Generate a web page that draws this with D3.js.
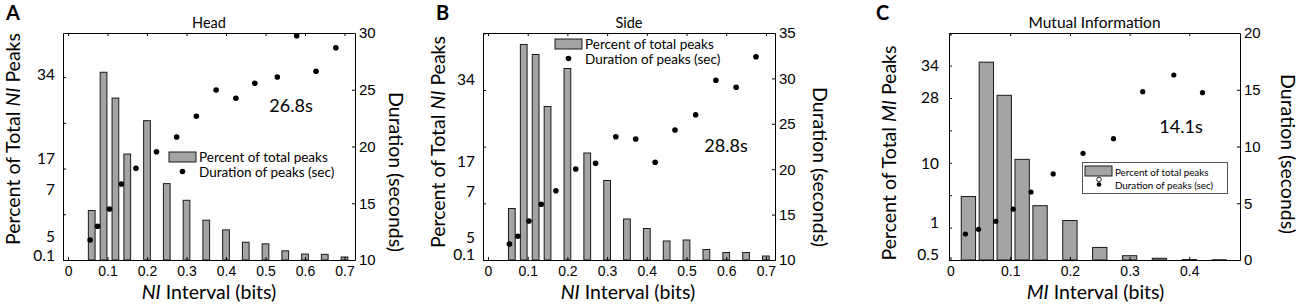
<!DOCTYPE html>
<html>
<head>
<meta charset="utf-8">
<script src="https://cdn.jsdelivr.net/npm/d3@7"></script>
<style>
  body { margin: 0; background: #fff; }
  svg { font-family: Lato, "Open Sans", sans-serif; }
</style>
</head>
<body>
<svg id="chart" width="1300" height="305"></svg>
<script>
// ---- data ----

// bins of the histograms (bits)
const niBins = [0.06, 0.09, 0.12, 0.15, 0.2, 0.25, 0.3, 0.35, 0.4, 0.45, 0.5, 0.55, 0.6, 0.65, 0.7];
const miBins = [0.03, 0.06, 0.09, 0.12, 0.15, 0.2, 0.25, 0.3, 0.35, 0.4, 0.45];

// percent of total peaks
const headPct = [9.2, 34.9, 30.1, 19.7, 25.9, 14.2, 11.1, 7.4, 5.6, 3.3, 3.0, 1.7, 1.1, 1.05, 0.56];
const sidePct = [10.3, 43.1, 41.1, 30.7, 38.3, 21.4, 15.9, 8.2, 6.3, 3.8, 4.0, 2.1, 1.5, 1.5, 0.8];
const miPct   = [11.1, 34.6, 28.8, 17.6, 9.5, 6.9, 2.2, 0.75, 0.3, 0.08, 0.04];

// duration of peaks (sec), plotted at their own interval positions
const headDurAt = [0.056, 0.075, 0.105, 0.135, 0.172, 0.224, 0.275, 0.325, 0.375, 0.425, 0.473, 0.53, 0.579, 0.628, 0.678];
const headDur   = [11.76, 12.97, 14.49, 16.7, 18.08, 19.54, 20.84, 22.66, 24.98, 24.25, 25.57, 26.12, 29.76, 26.63, 28.7];
const sideDurAt = [0.054, 0.075, 0.103, 0.134, 0.171, 0.221, 0.271, 0.322, 0.372, 0.421, 0.471, 0.523, 0.574, 0.625, 0.675];
const sideDur   = [11.76, 12.61, 14.3, 16.14, 17.63, 20.02, 20.65, 23.58, 23.33, 20.76, 24.32, 26.0, 29.79, 29.02, 32.39];
const miDurAt   = [0.025, 0.047, 0.076, 0.105, 0.135, 0.172, 0.222, 0.273, 0.322, 0.374, 0.422];
const miDur     = [2.29, 2.7, 3.41, 4.49, 5.99, 7.58, 9.4, 10.69, 14.83, 16.3, 14.74];

// tick labels
const niXTicks = [0, 0.1, 0.2, 0.3, 0.4, 0.5, 0.6, 0.7];
const miXTicks = [0, 0.1, 0.2, 0.3, 0.4];
const niYLabels = ["0.1", "5", "7", "17", "34"];
const miYLabels = ["0.5", "1", "10", "28", "34"];
// where those labels sit on the percent scale (the figure's labels do not line up with its ticks)
const headYLabelAt = [0.9, 4.3, 13.0, 18.9, 34.4];
const sideYLabelAt = [1.0, 4.5, 13.7, 19.7, 36.1];
const miYLabelAt   = [0.9, 6.5, 16.9, 28.4, 34.0];

const medians = ["26.8s", "28.8s", "14.1s"];

// ---- drawing ----
const svg = d3.select("#chart");
const plotTop = 33, plotBottom = 260;

function drawPanel(p) {
  const g = svg.append("g");

  const x = d3.scaleLinear().domain(p.xDomain).range([p.left, p.right]);
  const y = d3.scaleLinear().domain([0, p.pctTop]).range([plotBottom, plotTop]);
  const yDur = d3.scaleLinear().domain(p.durDomain).range([plotBottom, plotTop]);

  // bars
  g.append("g")
    .selectAll("rect")
    .data(p.bins.map((b, i) => ({ b: b, v: p.pct[i] })))
    .join("rect")
      .attr("x", d => x(d.b - p.barW / 2))
      .attr("width", d => x(d.b + p.barW / 2) - x(d.b - p.barW / 2))
      .attr("y", d => y(d.v))
      .attr("height", d => y(0) - y(d.v))
      .attr("fill", "#a4a4a4")
      .attr("stroke", "#1a1a1a")
      .attr("stroke-width", 1);

  // duration dots
  g.append("g")
    .selectAll("circle")
    .data(p.durAt.map((b, i) => ({ b: b, v: p.dur[i] })))
    .join("circle")
      .attr("cx", d => x(d.b))
      .attr("cy", d => yDur(d.v))
      .attr("r", p.dotR)
      .attr("fill", "#000");

  // axes (MATLAB style box, ticks pointing in)
  const bottomAxis = g.append("g")
    .attr("transform", `translate(0,${plotBottom})`)
    .call(d3.axisBottom(x).tickValues(p.xTicks).tickFormat(d => String(d))
      .tickSize(-3).tickSizeOuter(0).tickPadding(6));
  bottomAxis.selectAll("text").style("font-size", "14px");

  g.append("g")
    .attr("transform", `translate(0,${plotTop})`)
    .call(d3.axisTop(x).tickValues(p.xTicks).tickSize(-3).tickSizeOuter(0).tickFormat(""));

  g.append("g")
    .attr("transform", `translate(${p.left},0)`)
    .call(d3.axisLeft(y).tickValues(d3.range(0, p.pctTop, p.yStep)).tickSize(-3).tickSizeOuter(0).tickFormat(""));

  const rightAxis = g.append("g")
    .attr("transform", `translate(${p.right},0)`)
    .call(d3.axisRight(yDur).tickValues(d3.range(p.durDomain[0], p.durDomain[1] + 0.1, 5))
      .tickSize(-3).tickSizeOuter(0).tickPadding(4));
  rightAxis.selectAll("text").style("font-size", "15px");

  g.selectAll(".domain").attr("stroke", "#000");
  g.selectAll(".tick line").attr("stroke", "#000");

  // left labels
  g.append("g")
    .selectAll("text")
    .data(p.yLabels.map((t, i) => ({ t: t, v: p.yLabelAt[i] })))
    .join("text")
      .attr("x", p.left - p.labelGap)
      .attr("y", d => y(d.v))
      .attr("dy", "0.35em")
      .attr("text-anchor", "end")
      .style("font-size", "15.5px")
      .text(d => d.t);

  // titles
  g.append("text")
    .attr("x", (p.left + p.right) / 2).attr("y", 27.5)
    .attr("text-anchor", "middle")
    .style("font-size", p.titleSize)
    .text(p.title);

  g.append("text")
    .attr("x", p.letterX).attr("y", 20)
    .style("font-size", "20px").style("font-weight", "bold")
    .text(p.letter);

  const xt = g.append("text")
    .attr("x", (p.left + p.right) / 2 + p.xTitleShift).attr("y", 299)
    .attr("text-anchor", "middle")
    .style("font-size", "19.5px");
  xt.append("tspan").style("font-style", "italic").text(p.measure);
  xt.append("tspan").text(" Interval (bits)");

  const yt = g.append("text")
    .attr("transform", `translate(${p.yTitleX},${p.yTitleY}) rotate(-90)`)
    .attr("text-anchor", "middle")
    .style("font-size", "19.5px");
  yt.append("tspan").text("Percent of Total ");
  yt.append("tspan").style("font-style", "italic").text(p.measure);
  yt.append("tspan").text(" Peaks");

  g.append("text")
    .attr("transform", `translate(${p.durTitleX},${p.durTitleY}) rotate(90)`)
    .attr("text-anchor", "middle")
    .style("font-size", "19.5px")
    .text("Duration (seconds)");

  // median duration note
  g.append("text")
    .attr("x", p.medX).attr("y", p.medY)
    .attr("text-anchor", "middle")
    .style("font-size", "18px")
    .text(p.median);

  // legend
  const lg = g.append("g").attr("transform", `translate(${p.legX},${p.legY})`);
  if (p.legBox) {
    lg.append("rect")
      .attr("x", -2.5).attr("y", -3.5).attr("width", 145).attr("height", 31)
      .attr("fill", "#fff").attr("stroke", "#444").attr("stroke-width", 0.9);
  }
  lg.append("rect")
    .attr("x", 0).attr("y", 0).attr("width", 27).attr("height", 10)
    .attr("fill", "#a4a4a4").attr("stroke", "#1a1a1a").attr("stroke-width", 1);
  if (p.legBox) {
    lg.append("circle").attr("cx", 14).attr("cy", 13.5).attr("r", 2.3)
      .attr("fill", "#fff").attr("stroke", "#000").attr("stroke-width", 0.8);
  }
  lg.append("circle").attr("cx", p.legBox ? 14 : 13.5).attr("cy", p.legBox ? 18.5 : 19.5)
    .attr("r", p.legBox ? 2.3 : 2.8).attr("fill", "#000");
  lg.append("text").attr("x", 30).attr("y", p.legBox ? 9.5 : 10)
    .style("font-size", p.legFont).text("Percent of total peaks");
  lg.append("text").attr("x", 30).attr("y", p.legBox ? 22.5 : 24.5)
    .style("font-size", p.legFont).text("Duration of peaks (sec)");
}

drawPanel({
  letter: "A", letterX: 6, title: "Head", titleSize: "14.5px", measure: "NI",
  left: 63, right: 355, xDomain: [-0.0127, 0.7266], xTicks: niXTicks,
  pctTop: 42.2, yStep: 8.5, durDomain: [10, 30],
  bins: niBins, pct: headPct, barW: 0.017, durAt: headDurAt, dur: headDur, dotR: 2.8,
  yLabels: niYLabels, yLabelAt: headYLabelAt, labelGap: 8,
  yTitleX: 19.5, yTitleY: 139, durTitleX: 389, durTitleY: 172, xTitleShift: 0,
  median: medians[0], medX: 291, medY: 112,
  legX: 169, legY: 152, legBox: false, legFont: "13.5px"
});

drawPanel({
  letter: "B", letterX: 436, title: "Side", titleSize: "14.5px", measure: "NI",
  left: 483, right: 775, xDomain: [-0.0126, 0.7229], xTicks: niXTicks,
  pctTop: 45.4, yStep: 34 / 3, durDomain: [10, 35],
  bins: niBins, pct: sidePct, barW: 0.017, durAt: sideDurAt, dur: sideDur, dotR: 2.8,
  yLabels: niYLabels, yLabelAt: sideYLabelAt, labelGap: 8,
  yTitleX: 445, yTitleY: 142, durTitleX: 813, durTitleY: 167, xTitleShift: -1,
  median: medians[1], medX: 726, medY: 152,
  legX: 555, legY: 39, legBox: false, legFont: "13.5px"
});

drawPanel({
  letter: "C", letterX: 876, title: "Mutual Information", titleSize: "15.5px", measure: "MI",
  left: 949, right: 1240, xDomain: [-0.0025, 0.4849], xTicks: miXTicks,
  pctTop: 39.7, yStep: 34 / 6, durDomain: [0, 20],
  bins: miBins, pct: miPct, barW: 0.024, durAt: miDurAt, dur: miDur, dotR: 2.6,
  yLabels: miYLabels, yLabelAt: miYLabelAt, labelGap: 10,
  yTitleX: 896, yTitleY: 153, durTitleX: 1281, durTitleY: 154, xTitleShift: 1,
  median: medians[2], medX: 1181, medY: 133,
  legX: 1085, legY: 166, legBox: true, legFont: "9.8px"
});
</script>
</body>
</html>
